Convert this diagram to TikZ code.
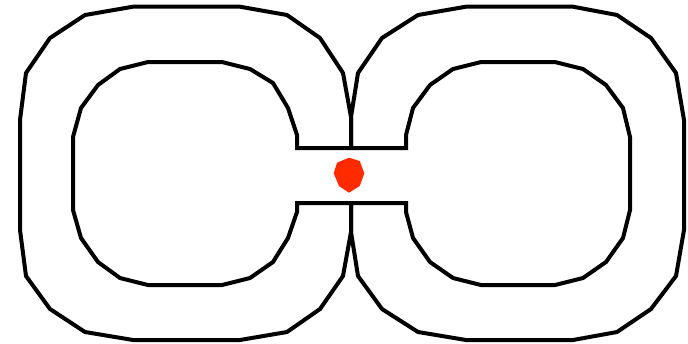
\documentclass[tikz,border=0pt]{standalone}
\usepackage{tikz}
\usetikzlibrary{calc}
\definecolor{hubred}{RGB}{255,42,0}

\begin{document}
\begin{tikzpicture}[x=1bp, y=-1bp, ring/.style={line width=4bp, line join=miter}]
  % picture frame, 688 x 343 (pixel units, y downwards)
  \useasboundingbox (0,0) rectangle (688,343);
  \coordinate (hub) at (349,175);
  % left link: outer rim, then inner rim
  \draw[ring] (351,148) -- (351,117) -- (343,73) -- (320,38) -- (287,15) -- (240,6.7)
    -- (133,6.7) -- (85,15) -- (50,38) -- (26,73) -- (20,120) -- (20,230) -- (26,276)
    -- (50,309) -- (85,332) -- (133,340) -- (240,340) -- (287,332) -- (320,309)
    -- (343,276) -- (351,232) -- (351,203);
  \draw[ring] (351,148) -- (297,148) -- (297,135) -- (288,108) -- (273,83) -- (250,69)
    -- (222,62) -- (148,62) -- (120,69) -- (98,85) -- (81,108) -- (73,137) -- (73,210)
    -- (81,238) -- (98,262) -- (120,278) -- (148,285) -- (222,285) -- (250,278)
    -- (273,262) -- (288,238) -- (297,212) -- (297,203) -- (351,203);
  % right link: outer rim, then inner rim
  \draw[ring] (351,148) -- (351,117) -- (358,73) -- (382,38) -- (418,15) -- (466,6.7)
    -- (573,6.7) -- (617,15) -- (651,38) -- (676,73) -- (684,120) -- (684,230) -- (676,276)
    -- (651,309) -- (617,332) -- (573,340) -- (466,340) -- (418,332) -- (382,309)
    -- (358,276) -- (351,232) -- (351,203);
  \draw[ring] (351,148) -- (406,148) -- (406,135) -- (413,108) -- (430,85) -- (453,69)
    -- (481,62) -- (555,62) -- (583,69) -- (606,85) -- (623,108) -- (630,137) -- (630,210)
    -- (623,238) -- (606,262) -- (583,278) -- (555,285) -- (481,285) -- (453,278)
    -- (430,262) -- (413,238) -- (406,212) -- (406,203) -- (351,203);
  % red hub between the links
  \fill[hubred] ($(hub)+(0,-17.3)$) -- ($(hub)+(10.7,-14)$) -- ($(hub)+(15.3,-1.7)$)
    -- ($(hub)+(10.7,11)$) -- ($(hub)+(0,17.7)$) -- ($(hub)+(-10,11)$)
    -- ($(hub)+(-15.3,-1.7)$) -- ($(hub)+(-12,-12.3)$) -- cycle;
\end{tikzpicture}
\end{document}
